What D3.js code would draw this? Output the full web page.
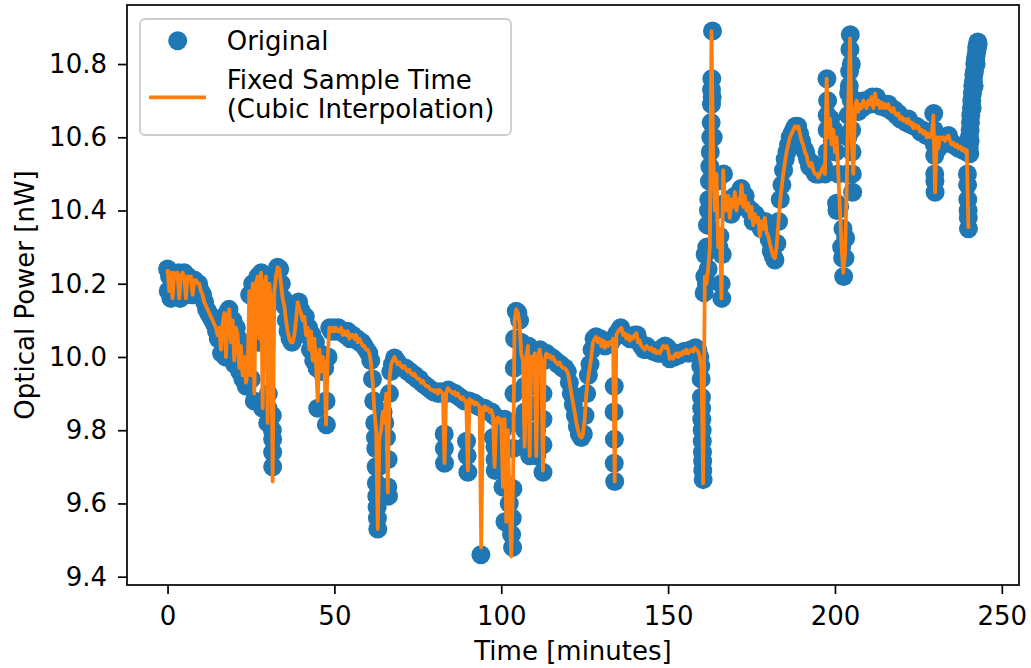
<!DOCTYPE html>
<html><head><meta charset="utf-8">
<script src="https://cdn.jsdelivr.net/npm/d3@7"></script>
<style>body{margin:0;background:#fff} text{font-family:"DejaVu Sans",sans-serif}</style>
</head><body><svg id="c" width="1031" height="668"></svg>
<script>
// ---- Original (irregular) samples: time [min] and optical power [nW]
const origTime = [
0,0.2,0.6,1.0,1.5,2.2,2.8,3.3,3.8,4.4,5.0,5.5,6.1,6.8,7.4,8.0,8.7,9.3,9.9,
10.5,11.1,11.7,12.3,12.9,13.5,14.1,14.7,15.2,15.8,16.2,16.9,17.4,17.9,18.4,19.0,19.6,20.1,20.6,21.2,21.6,22.2,22.6,23.1,23.6,24.1,
24.6,25.1,25.5,26.0,26.5,27.1,27.5,28.1,28.5,29.0,29.5,30.0,30.2,30.6,31.0,31.5,31.5,31.4,32.0,32.5,33.0,33.6,34.1,34.6,35.1,35.6,36.1,36.7,37.3,37.8,38.3,38.8,39.3,39.8,40.3,40.8,41.3,41.8,42.3,42.8,43.3,43.8,44.3,44.8,45.0,45.6,46.1,46.6,47.1,47.6,47.5,48.1,48.6,
49.2,49.8,50.5,51.2,51.9,52.6,53.3,54.0,54.7,55.4,56.1,56.8,57.5,58.2,58.9,59.6,60.3,60.9,61.4,61.8,62.1,62.4,62.6,62.8,63.0,63.3,63.6,64.1,64.6,65.1,65.6,66.0,66.2,66.5,66.9,67.4,68.0,
68.6,69.2,69.9,70.6,71.3,72.0,72.7,73.4,74.1,74.8,75.5,76.2,76.9,77.6,78.3,79.0,79.7,80.4,81.1,81.8,82.5,82.9,83.0,83.4,84.1,84.8,85.5,86.2,86.9,87.6,88.3,89.0,89.6,90.0,90.4,91.1,91.8,92.5,93.2,93.9,94.3,95.0,95.7,96.4,97.1,97.6,97.8,98.1,98.2,98.5,99.2,99.9,100.4,100.5,101.0,101.1,101.6,102.4,103.1,103.4,103.5,
103.8,104.0,104.5,105.0,105.5,105.9,106.2,106.7,107.0,107.1,107.6,108.1,108.5,108.6,109.1,109.7,110.2,110.6,111.1,111.6,112.1,112.5,112.9,113.5,114.2,114.9,115.6,116.3,117.0,117.7,118.4,119.1,119.8,120.4,121.0,121.6,122.2,122.8,123.4,124.0,124.6,125.1,125.6,126.1,126.6,127.2,127.8,128.4,129.0,129.7,130.4,131.1,131.8,132.5,133.2,133.8,133.9,134.0,
134.4,135.1,135.8,136.5,137.2,137.9,138.6,139.3,140.0,140.7,141.4,142.1,142.8,143.5,144.2,144.9,145.6,146.3,147.0,147.7,148.4,149.1,149.8,150.5,151.2,151.9,152.6,153.3,154.0,154.7,155.4,156.1,156.8,157.5,158.2,158.9,159.5,159.8,160.0,160.1,160.2,160.3,160.4,160.5,
160.8,161.0,161.5,161.8,162.0,162.2,162.5,162.8,163.0,163.1,163.2,163.3,163.5,163.6,163.8,164.2,164.7,165.2,165.5,165.9,166.1,166.6,
167.1,167.7,168.3,168.9,169.5,170.1,170.7,171.3,171.9,172.5,173.1,173.7,174.3,174.9,175.5,176.1,176.7,177.3,177.9,178.5,179.1,179.7,180.3,180.9,181.5,182.0,182.6,183.1,183.6,184.1,184.6,185.1,185.6,186.1,186.6,187.1,187.6,188.2,188.8,189.4,190.0,190.6,191.2,191.8,192.4,193.0,193.6,194.2,194.8,195.4,196.0,196.6,197.1,
197.6,197.8,198.2,198.7,199.2,199.7,200.2,200.5,200.6,200.9,201.4,202.0,202.3,202.6,203.2,203.7,204.1,204.6,204.9,205.2,205.3,205.8,
206.4,207.0,207.6,208.2,208.8,209.4,210.0,210.6,211.2,211.8,212.4,213.0,213.6,214.2,214.8,215.4,216.0,216.6,217.2,217.8,218.4,219.0,219.6,220.2,220.8,221.4,222.0,222.6,223.2,223.8,224.4,225.0,225.6,226.2,226.8,227.4,228.0,228.6,229.2,229.6,229.9,229.9,230.0,230.4,231.0,231.6,232.2,232.8,233.4,234.0,234.6,235.2,235.8,236.4,237.0,237.6,238.2,238.8,239.4,239.8,239.9,240.0,
240.2,240.3,240.5,240.6,240.7,240.9,241.0,241.2,241.3,241.5,241.6,241.8,241.9,242.1,242.2,242.4,242.5,242.7,242.8,242.9,242.6,242.3,241.7,241.1,240.5,240.0,240.4,
// samples on the fast transients
31.4,31.5,30.1,62.3,62.5,62.7,62.9,66.1,82.95,89.8,98.15,102.0,103.3,103.6,103.7,103.9,
107.05,107.05,108.55,108.55,110.6,110.6,110.6,112.5,112.5,112.5,133.85,133.85,
159.9,160.05,160.25,160.35,161.1,161.6,162.1,162.4,162.65,162.9,163.0,166.2,
197.65,197.65,197.7,202.4,203.0,203.9,204.0,204.3,204.4,204.5,204.9,205.0,205.1,
229.7,229.8,229.95,239.7,239.75,239.95
];
const origPower = [
10.24,10.18,10.22,10.16,10.23,10.22,10.17,10.23,10.16,10.22,10.23,10.17,10.22,10.21,10.17,10.21,10.20,10.20,10.18,
10.17,10.15,10.13,10.12,10.11,10.10,10.09,10.07,10.05,10.08,10.01,10.11,10.00,10.12,10.13,10.03,10.10,9.98,10.08,10.05,9.96,10.02,9.94,9.99,9.92,9.95,
10.17,9.94,10.20,9.88,10.20,10.22,10.04,10.23,9.86,10.20,10.22,9.82,9.90,10.20,10.15,9.775,9.70,9.84,10.18,10.22,10.245,10.24,10.20,10.16,10.14,10.10,10.07,10.05,10.04,10.05,10.08,10.12,10.15,10.13,10.12,10.10,10.11,10.06,10.08,10.02,10.06,9.99,10.04,9.97,9.86,10.01,9.96,10.00,9.97,9.815,9.88,10.00,10.08,
10.07,10.08,10.07,10.08,10.07,10.07,10.06,10.07,10.05,10.06,10.05,10.05,10.04,10.04,10.03,10.02,10.01,9.99,9.94,9.88,9.82,9.75,9.655,9.59,9.53,9.70,9.78,9.80,9.85,9.82,9.78,9.645,9.62,9.90,9.96,9.98,9.997,
9.99,9.98,9.975,9.97,9.97,9.96,9.96,9.95,9.95,9.94,9.94,9.93,9.925,9.92,9.915,9.91,9.905,9.905,9.90,9.905,9.90,9.79,9.71,9.90,9.91,9.905,9.90,9.90,9.895,9.89,9.885,9.88,9.77,9.685,9.88,9.875,9.875,9.87,9.865,9.46,9.86,9.86,9.855,9.85,9.85,9.78,9.84,9.755,9.69,9.835,9.83,9.82,9.80,9.645,9.83,9.55,9.75,9.60,9.515,9.48,9.64,
9.90,10.05,10.125,10.12,10.10,10.04,10.00,9.99,9.755,9.80,10.00,10.03,9.73,9.78,10.00,9.99,10.01,9.73,10.00,10.02,9.99,9.685,9.99,10.01,10.00,10.00,9.995,9.99,9.98,9.98,9.97,9.97,9.96,9.93,9.90,9.87,9.84,9.81,9.79,9.78,9.79,9.84,9.90,9.95,9.98,10.02,10.05,10.055,10.04,10.05,10.04,10.03,10.04,10.035,10.045,9.85,9.775,9.66,
10.06,10.07,10.08,10.065,10.06,10.055,10.05,10.05,10.06,10.06,10.04,10.03,10.02,10.03,10.02,10.02,10.015,10.015,10.01,10.01,10.025,10.03,10.025,9.995,10.00,10.00,10.01,10.005,10.01,10.015,10.015,10.01,10.02,10.015,10.025,10.02,10.00,9.975,9.89,9.83,9.80,9.74,9.69,9.665,
10.175,10.22,10.20,10.36,10.24,10.43,10.52,10.60,10.69,10.76,10.71,10.89,10.60,10.50,10.42,10.40,10.48,10.30,10.33,10.20,10.16,10.50,
10.42,10.40,10.43,10.39,10.42,10.44,10.41,10.43,10.46,10.42,10.44,10.41,10.40,10.40,10.37,10.39,10.37,10.37,10.35,10.36,10.37,10.34,10.32,10.29,10.275,10.265,10.31,10.37,10.43,10.47,10.51,10.54,10.56,10.58,10.60,10.61,10.62,10.63,10.63,10.61,10.59,10.57,10.56,10.54,10.52,10.53,10.51,10.50,10.50,10.50,10.51,10.52,10.50,
10.76,10.70,10.62,10.65,10.59,10.62,10.56,10.42,10.40,10.50,10.41,10.30,10.27,10.22,10.325,10.50,10.72,10.88,10.80,10.50,10.45,10.68,
10.70,10.67,10.69,10.68,10.70,10.69,10.70,10.69,10.71,10.70,10.71,10.70,10.685,10.69,10.685,10.68,10.69,10.675,10.67,10.675,10.66,10.665,10.65,10.65,10.645,10.64,10.65,10.635,10.635,10.63,10.63,10.625,10.615,10.62,10.61,10.605,10.61,10.60,10.605,10.665,10.55,10.50,10.45,10.60,10.57,10.60,10.595,10.60,10.59,10.605,10.59,10.58,10.58,10.575,10.57,10.575,10.565,10.565,10.56,10.43,10.40,10.35,
10.57,10.60,10.62,10.64,10.66,10.68,10.70,10.72,10.74,10.75,10.77,10.78,10.80,10.81,10.82,10.83,10.845,10.85,10.86,10.855,10.84,10.80,10.74,10.68,10.59,10.56,10.555,
9.80,9.74,9.86,9.78,9.70,9.62,9.56,9.72,9.75,9.73,9.72,9.65,9.56,9.75,9.82,9.97,
9.85,9.92,9.85,9.92,9.80,9.87,9.94,9.76,9.83,9.90,9.92,9.71,
9.94,9.86,9.77,9.715,10.28,10.30,10.40,10.48,10.56,10.64,10.73,10.28,
10.56,10.62,10.66,10.35,10.27,10.60,10.66,10.74,10.78,10.84,10.70,10.62,10.56,
10.62,10.58,10.48,10.50,10.47,10.38
];
// ---- Fixed sample time series (cubic interpolation), one value every 0.5 min from t = 0
const fixedStart = 0, fixedStep = 0.5;
const fixedPower = [
10.24,10.18,10.23,10.16,10.23,10.22,10.23,10.16,10.22,10.23,
10.22,10.16,10.22,10.21,10.22,10.17,10.21,10.21,10.20,10.20,
10.18,10.17,10.15,10.14,10.13,10.12,10.11,10.10,10.09,10.08,
10.06,10.08,10.02,10.09,10.12,10.00,10.11,10.13,10.04,10.10,
9.99,10.08,10.06,9.97,10.03,9.95,10.00,9.93,9.96,10.18,
9.95,10.20,9.90,10.20,10.22,10.05,10.23,9.86,10.20,10.22,
9.82,10.20,10.15,9.66,10.18,10.22,10.245,10.24,10.20,10.16,
10.14,10.10,10.07,10.05,10.04,10.04,10.06,10.10,10.15,10.13,
10.12,10.10,10.11,10.06,10.08,10.02,10.07,9.99,10.05,9.98,
9.88,10.02,9.96,10.00,9.98,9.815,10.00,10.08,10.07,10.08,
10.07,10.08,10.07,10.07,10.08,10.06,10.07,10.06,10.07,10.05,
10.06,10.06,10.05,10.06,10.04,10.05,10.04,10.03,10.03,10.02,
10.02,10.01,9.98,9.93,9.85,9.80,9.53,9.78,9.80,9.85,
9.82,9.90,9.63,9.94,9.98,9.99,10.00,9.99,9.98,9.985,
9.975,9.97,9.975,9.965,9.96,9.965,9.955,9.95,9.955,9.945,
9.94,9.94,9.93,9.935,9.925,9.92,9.92,9.915,9.91,9.91,
9.905,9.91,9.90,9.91,9.905,9.90,9.71,9.90,9.915,9.91,
9.905,9.90,9.905,9.895,9.90,9.89,9.885,9.89,9.88,9.88,
9.69,9.885,9.875,9.88,9.87,9.875,9.87,9.865,9.48,9.86,
9.865,9.855,9.86,9.85,9.855,9.84,9.70,9.83,9.835,9.82,
9.83,9.645,9.83,9.55,9.80,9.60,9.455,9.64,10.10,10.13,
10.12,10.09,10.01,9.99,9.755,10.00,10.03,9.73,10.00,9.99,
10.01,9.73,10.00,10.02,9.99,9.69,9.99,10.01,10.00,10.005,
9.995,10.00,9.99,9.985,9.98,9.985,9.975,9.97,9.97,9.965,
9.955,9.93,9.90,9.875,9.85,9.82,9.80,9.785,9.78,9.79,
9.83,9.90,9.94,9.97,10.00,10.04,10.05,10.055,10.04,10.05,
10.03,10.045,10.025,10.04,10.03,10.04,10.035,10.05,9.66,10.06,
10.07,10.075,10.08,10.06,10.065,10.05,10.06,10.045,10.055,10.05,
10.06,10.065,10.04,10.045,10.03,10.025,10.02,10.03,10.025,10.02,
10.025,10.015,10.02,10.01,10.015,10.01,10.02,10.03,10.025,10.03,
10.02,9.995,10.00,9.995,10.005,10.01,10.00,10.01,10.005,10.015,
10.01,10.02,10.01,10.015,10.02,10.015,10.025,10.02,10.015,10.00,
9.97,9.655,10.22,10.20,10.24,10.30,10.89,10.55,10.40,10.50,
10.30,10.35,10.16,10.51,10.42,10.40,10.44,10.38,10.43,10.41,
10.45,10.40,10.43,10.42,10.47,10.41,10.44,10.40,10.42,10.38,
10.41,10.36,10.39,10.37,10.38,10.33,10.37,10.35,10.38,10.34,
10.33,10.31,10.29,10.275,10.27,10.30,10.36,10.42,10.46,10.50,
10.53,10.56,10.58,10.60,10.61,10.62,10.63,10.625,10.63,10.61,
10.59,10.58,10.56,10.55,10.53,10.52,10.53,10.51,10.50,10.50,
10.49,10.50,10.51,10.52,10.50,10.76,10.60,10.65,10.58,10.62,
10.56,10.60,10.50,10.40,10.30,10.23,10.28,10.45,10.70,10.87,
10.60,10.50,10.68,10.70,10.67,10.69,10.68,10.70,10.69,10.68,
10.70,10.69,10.71,10.68,10.72,10.69,10.70,10.68,10.695,10.68,
10.69,10.68,10.69,10.675,10.67,10.68,10.665,10.66,10.665,10.65,
10.655,10.645,10.65,10.64,10.65,10.635,10.64,10.625,10.635,10.625,
10.63,10.615,10.62,10.61,10.615,10.60,10.61,10.60,10.605,10.66,
10.45,10.60,10.57,10.60,10.595,10.60,10.59,10.60,10.605,10.59,
10.58,10.585,10.575,10.58,10.57,10.575,10.565,10.57,10.56,10.565,
10.35
];
const xTicks = [0, 50, 100, 150, 200, 250];
const yTicks = [9.4, 9.6, 9.8, 10.0, 10.2, 10.4, 10.6, 10.8];
const legendLabels = ["Original", "Fixed Sample Time", "(Cubic Interpolation)"];
const xLabel = "Time [minutes]";
const yLabel = "Optical Power [nW]";

const BLUE = "#1f77b4", ORANGE = "#ff7f0e";
const FS = 26;
const plot = {left:127, right:1019, top:5, bottom:585};

const svg = d3.select("#c");
const x = d3.scaleLinear().domain([-12.15, 255.15]).range([plot.left, plot.right]);
const y = d3.scaleLinear().domain([9.3773, 10.9612]).range([plot.bottom, plot.top]);

const orig = origTime.map((t,i)=>({t, v: origPower[i]}));
const fixed = fixedPower.map((v,i)=>({t: fixedStart + i*fixedStep, v}));

svg.append("defs").append("clipPath").attr("id","clip").append("rect")
  .attr("x",plot.left).attr("y",plot.top).attr("width",plot.right-plot.left).attr("height",plot.bottom-plot.top);

const g = svg.append("g").attr("clip-path","url(#clip)");
g.selectAll("circle.o").data(orig).join("circle").attr("class","o")
  .attr("cx",d=>x(d.t)).attr("cy",d=>y(d.v)).attr("r",9.5).attr("fill",BLUE);
g.append("path").datum(fixed)
  .attr("d", d3.line().x(d=>x(d.t)).y(d=>y(d.v)))
  .attr("fill","none").attr("stroke",ORANGE).attr("stroke-width",3.8).attr("stroke-linejoin","round");

// axes
const xa = svg.append("g").attr("transform",`translate(0,${plot.bottom})`)
  .call(d3.axisBottom(x).tickValues(xTicks).tickSize(9).tickSizeOuter(0).tickPadding(12.5).tickFormat(d3.format("d")));
const ya = svg.append("g").attr("transform",`translate(${plot.left},0)`)
  .call(d3.axisLeft(y).tickValues(yTicks).tickSize(9).tickSizeOuter(0).tickPadding(11).tickFormat(d3.format(".1f")));
[xa,ya].forEach(a=>{
  a.select(".domain").remove();
  a.selectAll(".tick line").attr("stroke","#000").attr("stroke-width",1.7);
  a.selectAll(".tick text").attr("font-size",FS).attr("font-family","DejaVu Sans").attr("fill","#000");
});
svg.append("rect").attr("x",plot.left).attr("y",plot.top)
  .attr("width",plot.right-plot.left).attr("height",plot.bottom-plot.top)
  .attr("fill","none").attr("stroke","#000").attr("stroke-width",1.7);

svg.append("text").attr("x",(plot.left+plot.right)/2).attr("y",660)
  .attr("text-anchor","middle").attr("font-size",FS).text(xLabel);
svg.append("text").attr("transform",`translate(33.5,${(plot.top+plot.bottom)/2}) rotate(-90)`)
  .attr("text-anchor","middle").attr("font-size",FS).text(yLabel);

// legend
const lg = svg.append("g");
lg.append("rect").attr("x",140).attr("y",19).attr("width",371).attr("height",116).attr("rx",5)
  .attr("fill","#fff").attr("fill-opacity",0.8).attr("stroke","#cccccc").attr("stroke-width",1.8);
lg.append("circle").attr("cx",177.7).attr("cy",40.7).attr("r",9.5).attr("fill",BLUE);
lg.append("line").attr("x1",149).attr("x2",206).attr("y1",97.3).attr("y2",97.3)
  .attr("stroke",ORANGE).attr("stroke-width",3.8);
lg.append("text").attr("x",226.7).attr("y",50).attr("font-size",FS).text(legendLabels[0]);
lg.append("text").attr("x",226.7).attr("y",89.3).attr("font-size",FS).text(legendLabels[1]);
lg.append("text").attr("x",226.7).attr("y",118.3).attr("font-size",FS).text(legendLabels[2]);
</script></body></html>
